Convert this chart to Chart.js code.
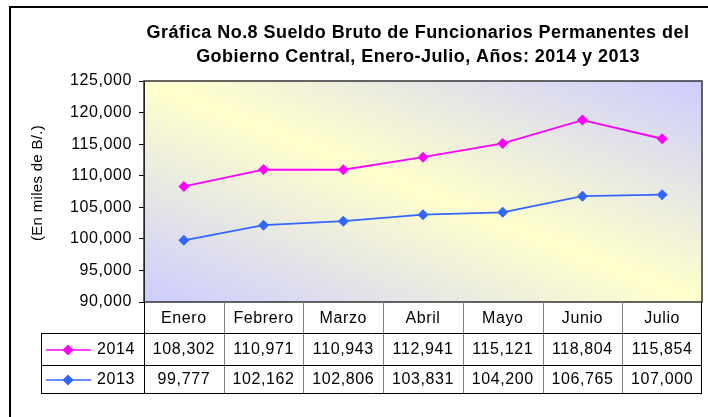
<!DOCTYPE html>
<html>
<head>
<meta charset="utf-8">
<script src="https://cdn.jsdelivr.net/npm/chart.js@4.4.1/dist/chart.umd.min.js"></script>
<style>
  html, body { margin: 0; padding: 0; background: #fff; }
  #wrap { width: 708px; height: 417px; }
</style>
</head>
<body>
<div id="wrap"><canvas id="salaryChart" width="708" height="417"></canvas></div>
<script>
// data
const months = ["Enero", "Febrero", "Marzo", "Abril", "Mayo", "Junio", "Julio"];
const series2014 = [108302, 110971, 110943, 112941, 115121, 118804, 115854];
const series2013 = [99777, 102162, 102806, 103831, 104200, 106765, 107000];
const seriesNames = ["2014", "2013"];
const seriesColors = ["#FF00FF", "#3366FF"];
const titleLines = [
  "Gráfica No.8 Sueldo Bruto de Funcionarios Permanentes del",
  "Gobierno Central, Enero-Julio, Años: 2014 y 2013"
];
const yTitle = "(En miles de B/.)";

const fmt = (v) => v.toLocaleString("en-US");
const FONT = "Arial, 'Liberation Sans', sans-serif";

// gradient plot background + frame
const backdrop = {
  id: "backdrop",
  beforeDraw(chart) {
    const { ctx, chartArea: a } = chart;
    ctx.letterSpacing = "0.6px";
    const w = a.right - a.left, h = a.bottom - a.top;
    const cx = a.left + w / 2, cy = a.top + h / 2;
    const k = (w * h) / (w * w + h * h);
    const g = ctx.createLinearGradient(cx - h * k, cy + w * k, cx + h * k, cy - w * k);
    g.addColorStop(0, "#CCCCFF");
    g.addColorStop(0.5, "#FFFFCC");
    g.addColorStop(1, "#CCCCFF");
    ctx.save();
    ctx.fillStyle = g;
    ctx.fillRect(a.left, a.top, w, h);
    ctx.restore();
  },
  afterDraw(chart) {
    const { ctx, chartArea: a } = chart;
    ctx.save();
    ctx.letterSpacing = "0px";
    // outer border
    ctx.strokeStyle = "#000";
    ctx.lineWidth = 2;
    ctx.beginPath();
    ctx.moveTo(10, 417);
    ctx.lineTo(10, 7);
    ctx.lineTo(708, 7);
    ctx.stroke();
    // plot frame
    ctx.lineWidth = 1.5;
    ctx.strokeStyle = "#333";
    ctx.strokeRect(a.left, a.top, a.right - a.left, a.bottom - a.top);

    // title
    ctx.fillStyle = "#000";
    ctx.font = "bold 18px " + FONT;
    ctx.letterSpacing = "0.45px";
    ctx.textAlign = "center";
    ctx.textBaseline = "alphabetic";
    ctx.fillText(titleLines[0], 418, 38);
    ctx.fillText(titleLines[1], 418, 62);

    // y title
    ctx.font = "15px " + FONT;
    ctx.letterSpacing = "0.3px";
    ctx.translate(38, 183);
    ctx.rotate(-Math.PI / 2);
    ctx.textBaseline = "middle";
    ctx.fillText(yTitle, 0, 0);
    ctx.restore();
  }
};

// data table under the plot
const dataTable = {
  id: "dataTable",
  afterDraw(chart) {
    const { ctx, chartArea: a, scales } = chart;
    const x = scales.x;
    const colW = (a.right - a.left) / months.length;
    const rows = [a.bottom, 333, 365, 393];
    const legendLeft = 41;
    ctx.save();
    ctx.letterSpacing = "0.6px";
    ctx.lineWidth = 1;

    // inner verticals
    ctx.strokeStyle = "#808080";
    for (let i = 1; i < months.length; i++) {
      const px = Math.round(a.left + colW * i) + 0.5;
      ctx.beginPath();
      ctx.moveTo(px, rows[0]);
      ctx.lineTo(px, rows[3]);
      ctx.stroke();
    }
    // horizontals and outer lines
    ctx.strokeStyle = "#000";
    [rows[1], rows[2], rows[3]].forEach((py) => {
      ctx.beginPath();
      ctx.moveTo(legendLeft, py + 0.5);
      ctx.lineTo(a.right, py + 0.5);
      ctx.stroke();
    });
    ctx.beginPath();
    ctx.moveTo(a.left + 0.5, rows[0]);
    ctx.lineTo(a.left + 0.5, rows[3]);
    ctx.moveTo(a.right - 0.5, rows[0]);
    ctx.lineTo(a.right - 0.5, rows[3]);
    ctx.moveTo(legendLeft + 0.5, rows[1]);
    ctx.lineTo(legendLeft + 0.5, rows[3]);
    ctx.stroke();

    ctx.fillStyle = "#000";
    ctx.font = "16px " + FONT;
    ctx.textAlign = "center";
    ctx.textBaseline = "middle";
    months.forEach((m, i) => {
      const cx = x.getPixelForValue(i);
      ctx.fillText(m, cx, (rows[0] + rows[1]) / 2 + 1);
      ctx.fillText(fmt(series2014[i]), cx, (rows[1] + rows[2]) / 2 + 1);
      ctx.fillText(fmt(series2013[i]), cx, (rows[2] + rows[3]) / 2 + 1);
    });

    // legend keys
    seriesNames.forEach((name, r) => {
      const cy = (rows[r + 1] + rows[r + 2]) / 2 + 1;
      ctx.strokeStyle = seriesColors[r];
      ctx.fillStyle = seriesColors[r];
      ctx.lineWidth = 1.5;
      ctx.beginPath();
      ctx.moveTo(46, cy);
      ctx.lineTo(91, cy);
      ctx.stroke();
      ctx.beginPath();
      ctx.moveTo(68, cy - 5.5);
      ctx.lineTo(73.5, cy);
      ctx.lineTo(68, cy + 5.5);
      ctx.lineTo(62.5, cy);
      ctx.closePath();
      ctx.fill();
      ctx.fillStyle = "#000";
      ctx.textAlign = "left";
      ctx.fillText(name, 97, cy);
    });
    ctx.restore();
  }
};

const ctx = document.getElementById("salaryChart").getContext("2d");

new Chart(ctx, {
  type: "line",
  data: {
    labels: months,
    datasets: [
      {
        label: seriesNames[0],
        data: series2014,
        borderColor: seriesColors[0],
        backgroundColor: seriesColors[0],
        borderWidth: 1.8,
        pointStyle: "rectRot",
        pointRadius: 5.5,
        pointBorderWidth: 0,
        tension: 0
      },
      {
        label: seriesNames[1],
        data: series2013,
        borderColor: seriesColors[1],
        backgroundColor: seriesColors[1],
        borderWidth: 1.8,
        pointStyle: "rectRot",
        pointRadius: 5.5,
        pointBorderWidth: 0,
        tension: 0
      }
    ]
  },
  options: {
    responsive: false,
    animation: false,
    layout: { padding: { top: 81, right: 6, bottom: 115, left: 0 } },
    plugins: {
      legend: { display: false },
      title: { display: false },
      tooltip: { enabled: false }
    },
    scales: {
      x: {
        type: "category",
        offset: true,
        display: false
      },
      y: {
        min: 90000,
        max: 125000,
        afterFit(scale) { scale.width = 144; },
        ticks: {
          stepSize: 5000,
          color: "#000",
          padding: 7,
          font: { family: FONT, size: 16 },
          callback: (v) => fmt(v)
        },
        grid: {
          drawOnChartArea: false,
          drawTicks: true,
          tickLength: 5,
          color: "#000"
        },
        border: { display: true, color: "#000" }
      }
    }
  },
  plugins: [backdrop, dataTable]
});
</script>
</body>
</html>
